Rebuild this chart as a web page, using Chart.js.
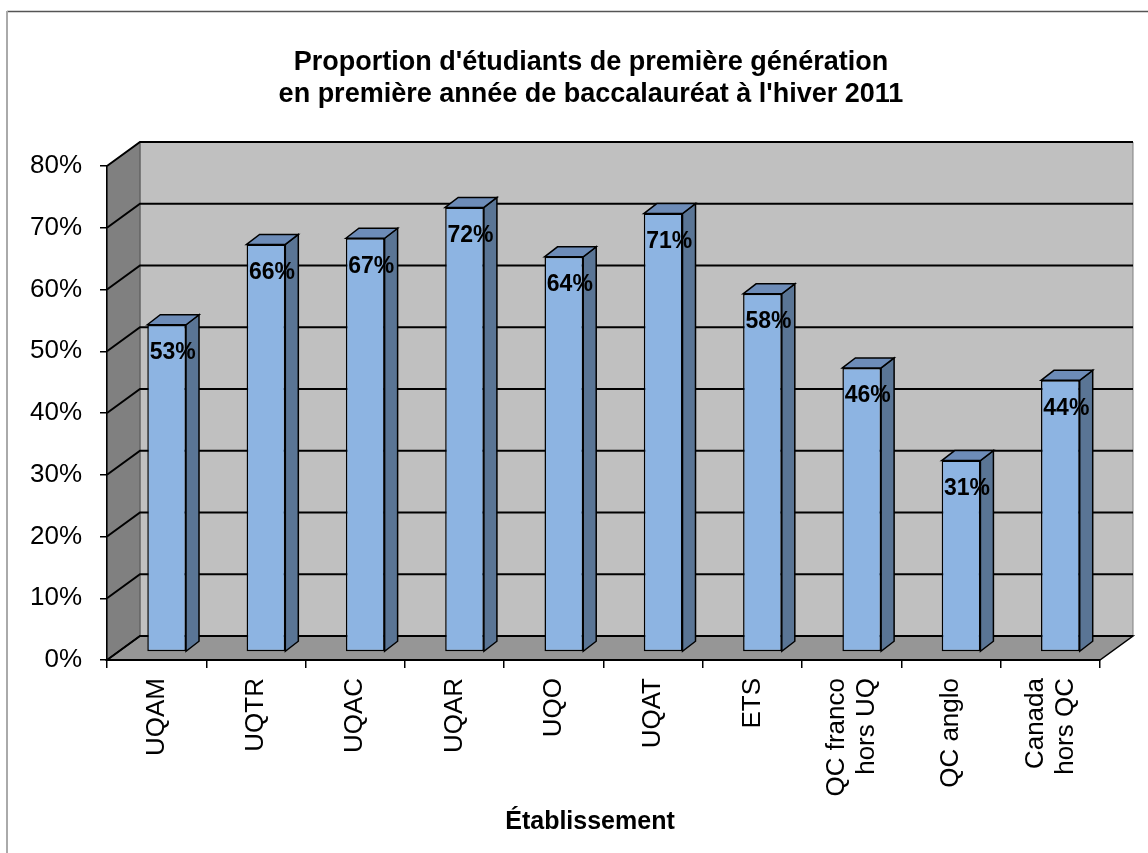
<!DOCTYPE html>
<html>
<head>
<meta charset="utf-8">
<script src="https://cdn.jsdelivr.net/npm/chart.js@4.4.0/dist/chart.umd.min.js"></script>
<style>
  body { margin: 0; background: #fff; }
  canvas { display: block; }
</style>
</head>
<body>
<canvas id="myChart" width="1148" height="853"></canvas>
<script>
var categories = ["UQAM", "UQTR", "UQAC", "UQAR", "UQO", "UQAT", "ETS", ["QC franco", "hors UQ"], "QC anglo", ["Canada", "hors QC"]];
var values = [53, 66, 67, 72, 64, 71, 58, 46, 31, 44];
var yTicks = [0, 10, 20, 30, 40, 50, 60, 70, 80];
var titleLines = ["Proportion d'étudiants de première génération", "en première année de baccalauréat à l'hiver 2011"];
var xTitle = "Établissement";

var FONT = "'Liberation Sans', Arial, sans-serif";
// depth of the walls and of the bars
var DX = 33, DY = 24;
var BX = 10, BY = 8;
var bx = 13, by = 10;

function poly(ctx, pts, fill, stroke, lw) {
    ctx.beginPath();
    ctx.moveTo(pts[0][0], pts[0][1]);
    for (var i = 1; i < pts.length; i++) ctx.lineTo(pts[i][0], pts[i][1]);
    ctx.closePath();
    if (fill) { ctx.fillStyle = fill; ctx.fill(); }
    if (stroke) { ctx.strokeStyle = stroke; ctx.lineWidth = lw || 1; ctx.stroke(); }
}

var box3d = {
    id: 'box3d',
    beforeDraw: function(chart) {
        var ctx = chart.ctx, ca = chart.chartArea, y = chart.scales.y;
        var l = ca.left, r = ca.right, t = ca.top, b = ca.bottom;
        ctx.save();
        // frame
        ctx.strokeStyle = '#555';
        ctx.lineWidth = 1.5;
        ctx.beginPath(); ctx.moveTo(7, 11.5); ctx.lineTo(1148, 11.5); ctx.stroke();
        ctx.strokeStyle = '#aaa';
        ctx.lineWidth = 2;
        ctx.beginPath(); ctx.moveTo(7, 11); ctx.lineTo(7, 853); ctx.stroke();
        // back wall, side wall, floor
        poly(ctx, [[l + DX, t - DY], [r + DX, t - DY], [r + DX, b - DY], [l + DX, b - DY]], '#c0c0c0', '#808080', 1);
        poly(ctx, [[l, t], [l + DX, t - DY], [l + DX, b - DY], [l, b]], '#808080', '#555', 1);
        poly(ctx, [[l, b], [r, b], [r + DX, b - DY], [l + DX, b - DY]], '#969696', '#000', 1.5);
        // gridlines
        ctx.strokeStyle = '#000';
        ctx.lineWidth = 2;
        yTicks.forEach(function(v) {
            var py = y.getPixelForValue(v);
            ctx.beginPath();
            ctx.moveTo(l, py);
            ctx.lineTo(l + DX, py - DY);
            ctx.lineTo(r + DX, py - DY);
            ctx.stroke();
        });
        ctx.restore();
    },
    beforeDatasetsDraw: function(chart) {
        var ctx = chart.ctx;
        ctx.save();
        ctx.translate(BX, -BY);
        var meta = chart.getDatasetMeta(0);
        meta.data.forEach(function(bar) {
            var p = bar.getProps(['x', 'y', 'base', 'width'], true);
            var L = p.x - p.width / 2, R = p.x + p.width / 2;
            poly(ctx, [[R, p.y], [R + bx, p.y - by], [R + bx, p.base - by], [R, p.base]], '#5a7595', '#000', 1.5);
            poly(ctx, [[L, p.y], [L + bx, p.y - by], [R + bx, p.y - by], [R, p.y]], '#6d8cb8', '#000', 1.5);
        });
    },
    afterDatasetsDraw: function(chart) {
        var ctx = chart.ctx;
        var meta = chart.getDatasetMeta(0);
        ctx.fillStyle = '#000';
        ctx.font = 'bold 23px ' + FONT;
        ctx.textAlign = 'center';
        ctx.textBaseline = 'middle';
        meta.data.forEach(function(bar, i) {
            var p = bar.getProps(['x', 'y'], true);
            ctx.fillText(values[i] + '%', p.x + 6, p.y + 28);
        });
        ctx.restore();
    },
    afterDraw: function(chart) {
        var ctx = chart.ctx, x = chart.scales.x, ca = chart.chartArea;
        ctx.save();
        ctx.fillStyle = '#000';
        // title
        ctx.font = 'bold 27px ' + FONT;
        ctx.textAlign = 'center';
        ctx.textBaseline = 'middle';
        titleLines.forEach(function(line, i) {
            ctx.fillText(line, 591, 63 + i * 32);
        });
        // category labels, rotated, lines centred on the category
        ctx.font = '26px ' + FONT;
        ctx.textAlign = 'right';
        categories.forEach(function(c, i) {
            var lines = Array.isArray(c) ? c : [c];
            var cx = x.getPixelForValue(i);
            lines.forEach(function(line, j) {
                ctx.save();
                ctx.translate(cx + (j - (lines.length - 1) / 2) * 30, ca.bottom + 18);
                ctx.rotate(-Math.PI / 2);
                ctx.fillText(line, 0, 0);
                ctx.restore();
            });
        });
        // axis title
        ctx.font = 'bold 25px ' + FONT;
        ctx.textAlign = 'center';
        ctx.fillText(xTitle, 590, 822);
        ctx.restore();
    }
};

document.addEventListener("DOMContentLoaded", function(){
    var ctx = document.getElementById('myChart').getContext('2d');
    var chart = new Chart(ctx, {
        type: 'bar',
        data: {
            labels: categories,
            datasets: [{
                data: values,
                backgroundColor: '#8db4e2',
                borderColor: '#000',
                borderWidth: 1.5,
                borderSkipped: false,
                barPercentage: 0.39,
                categoryPercentage: 1
            }]
        },
        options: {
            responsive: false,
            animation: false,
            layout: { padding: { left: 0, right: 48, top: 166, bottom: 0 } },
            plugins: {
                legend: { display: false },
                tooltip: { enabled: false },
                title: { display: false }
            },
            scales: {
                x: {
                    afterFit: function(s) { s.height = 193; },
                    grid: { display: true, drawOnChartArea: false, drawTicks: true, tickLength: 8, color: '#000', lineWidth: 1.5 },
                    border: { display: true, color: '#000', width: 2 },
                    ticks: { display: false, autoSkip: false }
                },
                y: {
                    min: 0,
                    max: 80,
                    afterFit: function(s) { s.width = 107; },
                    grid: { display: true, drawOnChartArea: false, drawTicks: true, tickLength: 7, color: '#000', lineWidth: 1.5 },
                    border: { display: true, color: '#000', width: 1.5 },
                    ticks: {
                        stepSize: 10,
                        color: '#000',
                        padding: 18,
                        font: { family: FONT, size: 26 },
                        callback: function(v) { return v + '%'; }
                    }
                }
            }
        },
        plugins: [box3d]
    });
});
</script>
</body>
</html>
